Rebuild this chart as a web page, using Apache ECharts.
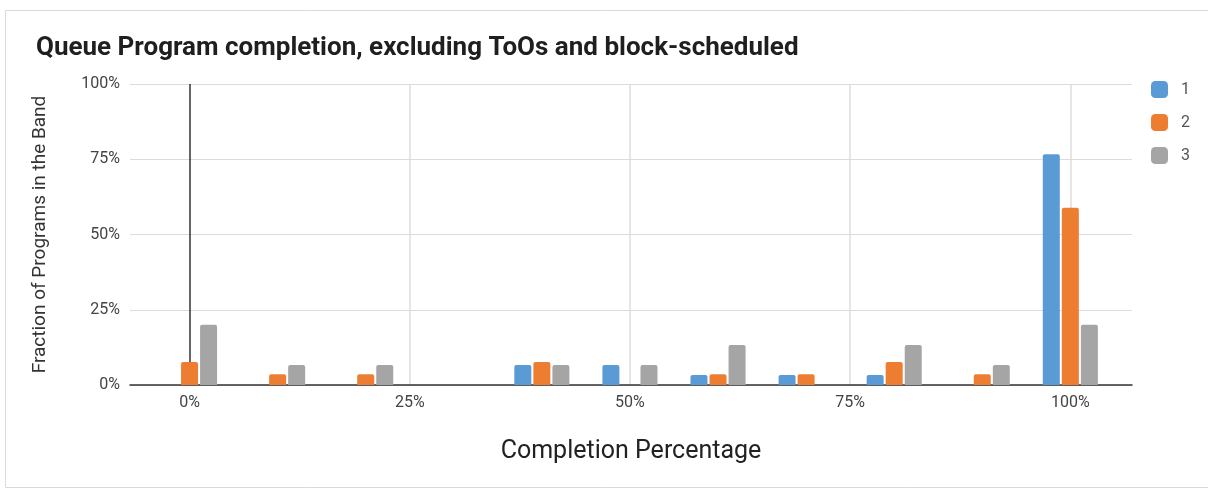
<!DOCTYPE html>
<html>
<head>
<meta charset="utf-8">
<script src="https://cdn.jsdelivr.net/npm/echarts@6/dist/echarts.min.js"></script>
<style>
  html, body { margin: 0; padding: 0; background: #fff; }
  #chart { width: 1208px; height: 489px; }
</style>
</head>
<body>
<div id="chart"></div>
<script>
// completion bands (percent)
const bands = [0, 10, 20, 30, 40, 50, 60, 70, 80, 90, 100];
const seriesNames = ['1', '2', '3'];
const band1 = [0, 0, 0, 0, 6.67, 6.67, 3.33, 3.33, 3.33, 0, 76.67];
const band2 = [7.6, 3.6, 3.6, 0, 7.6, 0, 3.6, 3.6, 7.6, 3.6, 58.9];
const band3 = [20, 6.67, 6.67, 0, 6.67, 6.67, 13.33, 0, 13.33, 6.67, 20];
const xTicks = [0, 25, 50, 75, 100];
const colors = ['#5b9bd5', '#ed7d31', '#a5a5a5'];

const chart = echarts.init(document.getElementById('chart'));

// value x axis, skip empty bands so no stub bars are drawn
function toPairs(vals) {
  const out = [];
  vals.forEach((v, i) => { if (v > 0) out.push([bands[i], v]); });
  return out;
}

const font = 'Roboto, "Noto Sans", sans-serif';

chart.setOption({
  color: colors,
  textStyle: { fontFamily: font },
  title: {
    text: 'Queue Program completion, excluding ToOs and block-scheduled',
    left: 31,
    top: 30,
    textStyle: { fontSize: 26, fontWeight: 'bold', color: '#1f1f1f', fontFamily: font }
  },
  legend: {
    orient: 'vertical',
    left: 1146,
    top: 76,
    itemWidth: 17,
    itemHeight: 17,
    itemGap: 16,
    icon: 'roundRect',
    data: seriesNames,
    textStyle: { fontSize: 16, color: '#555', padding: [0, 0, 0, 8] }
  },
  graphic: [{
    type: 'rect',
    shape: { x: 5.5, y: 10.5, width: 1240, height: 477 },
    style: { fill: 'none', stroke: '#dadada', lineWidth: 1 },
    silent: true
  }],
  grid: { left: 130, right: 76, top: 84, bottom: 104 },
  xAxis: {
    type: 'value',
    min: -6.76,
    max: 107,
    name: 'Completion Percentage',
    nameLocation: 'middle',
    nameGap: 54,
    nameTextStyle: { fontSize: 25, color: '#222' },
    axisLine: { show: true, onZero: false, lineStyle: { color: '#333', width: 1.5 } },
    axisTick: { show: false, customValues: xTicks },
    axisLabel: {
      customValues: xTicks,
      formatter: '{value}%',
      fontSize: 16,
      color: '#444',
      margin: 10
    },
    splitLine: {
      show: true,
      lineStyle: { color: ['#333', '#dcdcdc', '#dcdcdc', '#dcdcdc', '#dcdcdc'], width: 1.5 }
    }
  },
  yAxis: {
    type: 'value',
    min: 0,
    max: 100,
    interval: 25,
    name: 'Fraction of Programs in the Band',
    nameLocation: 'middle',
    nameGap: 80,
    nameTextStyle: { fontSize: 19, color: '#333' },
    axisLine: { show: false },
    axisTick: { show: false },
    axisLabel: { formatter: '{value}%', fontSize: 16, color: '#444', margin: 10 },
    splitLine: { lineStyle: { color: '#dcdcdc', width: 1 } }
  },
  series: [band1, band2, band3].map((vals, k) => ({
    name: seriesNames[k],
    type: 'bar',
    barWidth: 17,
    barGap: '12%',
    itemStyle: { borderRadius: [2, 2, 0, 0] },
    data: toPairs(vals)
  }))
});
</script>
</body>
</html>
